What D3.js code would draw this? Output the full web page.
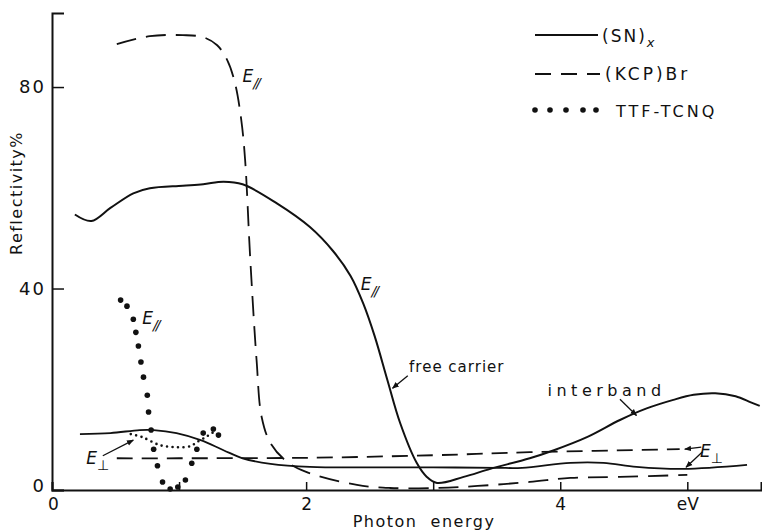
<!DOCTYPE html>
<html>
<head>
<meta charset="utf-8">
<script src="https://cdn.jsdelivr.net/npm/d3@7"></script>
<style>
  body { margin: 0; background: #fff; }
  svg { display: block; }
  text { font-family: "DejaVu Sans", sans-serif; fill: #111; }
</style>
</head>
<body>
<script>
// photon energy (eV) / reflectivity (%)

// (SN)x, E parallel, continues into the interband rise
var snParX = [0.18, 0.31, 0.46, 0.64, 0.77, 1.03, 1.19, 1.35, 1.50, 1.77, 2.03, 2.21, 2.35, 2.45, 2.54, 2.64, 2.74, 2.87, 2.95, 3.03, 3.24, 3.45, 3.76, 3.95, 4.21, 4.47, 4.68, 4.89, 5.05, 5.22, 5.38, 5.50, 5.57];
var snParY = [54.7, 53.4, 56.0, 58.9, 59.9, 60.4, 60.7, 61.2, 60.7, 56.9, 52.2, 47.5, 42.5, 37.0, 30.5, 21.8, 13.3, 5.4, 2.6, 1.4, 2.6, 4.2, 6.3, 7.9, 10.5, 13.9, 16.2, 17.9, 18.9, 19.2, 18.6, 17.4, 16.7];

// (SN)x, E perpendicular
var snPerpX = [0.22, 0.46, 0.69, 0.80, 0.98, 1.17, 1.35, 1.50, 1.72, 2.03, 2.50, 3.00, 3.50, 3.70, 4.08, 4.34, 4.60, 4.97, 5.47];
var snPerpY = [11.1, 11.3, 11.9, 11.9, 11.3, 9.9, 7.9, 6.3, 5.2, 4.6, 4.5, 4.5, 4.4, 4.4, 5.4, 5.4, 4.6, 4.2, 5.0];

// (KCP)Br, E parallel
var kcpParX = [0.51, 0.77, 1.03, 1.19, 1.30, 1.38, 1.44, 1.49, 1.52, 1.56, 1.61, 1.65, 1.72, 1.85, 2.00, 2.40, 2.66, 3.03, 3.35, 3.76, 4.08, 4.47, 5.00];
var kcpParY = [88.5, 90.1, 90.3, 89.9, 88.3, 85.3, 80.8, 73.4, 65.5, 46.0, 25.8, 14.5, 9.3, 5.6, 3.6, 1.0, 0.4, 0.4, 0.8, 1.6, 2.4, 2.6, 3.0];

// (KCP)Br, E perpendicular
var kcpPerpX = [0.51, 1.00, 2.03, 3.00, 3.76, 4.94];
var kcpPerpY = [6.3, 6.3, 6.4, 6.9, 7.5, 8.1];

// TTF-TCNQ, E parallel (large dots)
var ttfParX = [0.54, 0.59, 0.64, 0.66, 0.68, 0.70, 0.72, 0.75, 0.76, 0.78, 0.80, 0.83, 0.87, 0.93, 0.99, 1.05, 1.10, 1.14, 1.19, 1.27, 1.31];
var ttfParY = [37.7, 36.5, 33.9, 31.3, 28.6, 25.4, 22.4, 18.8, 15.5, 11.9, 8.1, 4.8, 1.6, 0.2, 0.6, 2.0, 5.3, 8.1, 11.3, 12.1, 10.9];

// TTF-TCNQ, E perpendicular (fine dotted)
var ttfPerpX = [0.62, 0.71, 0.85, 0.98, 1.09, 1.14, 1.21, 1.27];
var ttfPerpY = [11.1, 10.5, 8.9, 8.5, 8.7, 9.5, 10.5, 11.5];

var xTicks = [0, 1, 2, 3, 4, 5];
var xTickLabels = ["0", "", "2", "", "4", "eV"];
var yTicks = [0, 40, 80];
var yTickLabels = ["0", "40", "80"];

var legendNames = ["(SN)", "(KCP)Br", "TTF-TCNQ"];

var W = 762, H = 532;

var x = d3.scaleLinear().domain([0, 5.58]).range([52, 761]);
var y = d3.scaleLinear().domain([0, 94.7]).range([490, 13]);

var svg = d3.select("body").append("svg")
    .attr("width", W)
    .attr("height", H);

var defs = svg.append("defs");
defs.append("marker")
    .attr("id", "arr")
    .attr("viewBox", "0 0 10 10")
    .attr("refX", 9).attr("refY", 5)
    .attr("markerWidth", 7).attr("markerHeight", 7)
    .attr("markerUnits", "userSpaceOnUse")
    .attr("orient", "auto")
    .append("path")
    .attr("d", "M0,1 L10,5 L0,9 Z")
    .attr("fill", "#111");

function pts(xs, ys) {
  return xs.map(function(d, i) { return [d, ys[i]]; });
}

var line = d3.line()
    .x(function(d) { return x(d[0]); })
    .y(function(d) { return y(d[1]); })
    .curve(d3.curveCatmullRom.alpha(0.5));

// axes
var xAxis = d3.axisBottom(x)
    .tickValues(xTicks)
    .tickSize(-8)
    .tickFormat(function(d, i) { return xTickLabels[i]; });

var yAxis = d3.axisLeft(y)
    .tickValues(yTicks)
    .tickSize(-12)
    .tickFormat(function(d, i) { return yTickLabels[i]; });

var gx = svg.append("g")
    .attr("transform", "translate(0," + y(0) + ")")
    .call(xAxis);
gx.select(".domain").attr("stroke", "#111").attr("stroke-width", 2);
gx.selectAll(".tick line").attr("stroke", "#111").attr("stroke-width", 1.5);
gx.selectAll(".tick text")
    .attr("y", 8)
    .attr("font-size", 17)
    .attr("font-family", "DejaVu Sans")
    .attr("fill", "#111")
    .attr("dx", function(d) { return d === 0 ? 1 : 0; });

var gy = svg.append("g")
    .attr("transform", "translate(" + x(0) + ",0)")
    .call(yAxis);
gy.select(".domain").attr("stroke", "#111").attr("stroke-width", 2);
gy.selectAll(".tick line").attr("stroke", "#111").attr("stroke-width", 1.5);
gy.selectAll(".tick text")
    .attr("x", -6)
    .attr("font-size", 18)
    .attr("font-family", "DejaVu Sans")
    .attr("letter-spacing", 2)
    .attr("fill", "#111")
    .attr("dy", function(d) { return d === 0 ? "0.1em" : "0.32em"; });

// axis titles
svg.append("text")
    .attr("x", 424).attr("y", 527)
    .attr("text-anchor", "middle")
    .attr("font-size", 16)
    .attr("letter-spacing", 1.5)
    .attr("xml:space", "preserve")
    .text("Photon  energy");

svg.append("text")
    .attr("transform", "translate(22,193) rotate(-90)")
    .attr("text-anchor", "middle")
    .attr("font-size", 16)
    .attr("letter-spacing", 1.5)
    .text("Reflectivity%");

// curves
svg.append("path")
    .datum(pts(snParX, snParY))
    .attr("d", line)
    .attr("fill", "none").attr("stroke", "#111").attr("stroke-width", 2);

svg.append("path")
    .datum(pts(snPerpX, snPerpY))
    .attr("d", line)
    .attr("fill", "none").attr("stroke", "#111").attr("stroke-width", 1.8);

svg.append("path")
    .datum(pts(kcpParX, kcpParY))
    .attr("d", line)
    .attr("fill", "none").attr("stroke", "#111").attr("stroke-width", 1.8)
    .attr("stroke-dasharray", "20,10");

svg.append("path")
    .datum(pts(kcpPerpX, kcpPerpY))
    .attr("d", line)
    .attr("fill", "none").attr("stroke", "#111").attr("stroke-width", 1.8)
    .attr("stroke-dasharray", "16,9");

svg.append("path")
    .datum(pts(ttfPerpX, ttfPerpY))
    .attr("d", line)
    .attr("fill", "none").attr("stroke", "#111").attr("stroke-width", 2.6)
    .attr("stroke-linecap", "round")
    .attr("stroke-dasharray", "0,5.5");

svg.append("g").selectAll("circle")
    .data(pts(ttfParX, ttfParY))
    .join("circle")
    .attr("cx", function(d) { return x(d[0]); })
    .attr("cy", function(d) { return y(d[1]); })
    .attr("r", 2.8)
    .attr("fill", "#111");

// labels on the curves
function eLabel(px, py, sub) {
  var t = svg.append("text")
      .attr("x", px).attr("y", py)
      .attr("font-size", 17)
      .attr("font-style", "italic");
  t.append("tspan").text("E");
  t.append("tspan")
      .attr("dy", 6)
      .attr("font-size", 14)
      .attr("letter-spacing", -2)
      .attr("font-style", sub === "⊥" ? "normal" : "italic")
      .text(sub);
  return t;
}

eLabel(x(1.50), y(81), "//");
eLabel(x(0.71), y(33), "//");
eLabel(x(2.43), y(39.7), "//");
eLabel(x(0.27), y(5.2), "⊥");
eLabel(x(5.10), y(6.6), "⊥");

svg.append("text")
    .attr("x", x(2.81)).attr("y", y(23.5))
    .attr("font-size", 15)
    .attr("letter-spacing", 1)
    .text("free carrier");

svg.append("text")
    .attr("x", x(3.90)).attr("y", y(18.6))
    .attr("font-size", 16)
    .attr("letter-spacing", 4.5)
    .text("interband");

function arrow(x1, y1, x2, y2) {
  svg.append("line")
      .attr("x1", x(x1)).attr("y1", y(y1))
      .attr("x2", x(x2)).attr("y2", y(y2))
      .attr("stroke", "#111").attr("stroke-width", 1.3)
      .attr("marker-end", "url(#arr)");
}

arrow(0.40, 6.8, 0.64, 9.9);
arrow(2.80, 22.7, 2.68, 20.2);
arrow(4.47, 18.0, 4.60, 14.8);
arrow(5.11, 8.5, 4.98, 8.1);
arrow(5.12, 7.6, 4.99, 4.5);

// legend
var lg = svg.append("g");
lg.append("line")
    .attr("x1", 535).attr("x2", 598).attr("y1", 35).attr("y2", 35)
    .attr("stroke", "#111").attr("stroke-width", 2);
lg.append("line")
    .attr("x1", 535).attr("x2", 600).attr("y1", 74).attr("y2", 74)
    .attr("stroke", "#111").attr("stroke-width", 1.8)
    .attr("stroke-dasharray", "16,10");
lg.selectAll("circle")
    .data([535, 550, 566, 583, 596])
    .join("circle")
    .attr("cx", function(d) { return d; })
    .attr("cy", 110)
    .attr("r", 2.8)
    .attr("fill", "#111");

var t1 = lg.append("text")
    .attr("x", 602).attr("y", 42)
    .attr("font-size", 17)
    .attr("letter-spacing", 2);
t1.append("tspan").text(legendNames[0]);
t1.append("tspan").attr("dy", 5).attr("font-size", 13).attr("font-style", "italic").text("x");

lg.append("text")
    .attr("x", 605).attr("y", 80)
    .attr("font-size", 17)
    .attr("letter-spacing", 3)
    .text(legendNames[1]);

lg.append("text")
    .attr("x", 616).attr("y", 117)
    .attr("font-size", 16)
    .attr("letter-spacing", 3)
    .text(legendNames[2]);
</script>
</body>
</html>
